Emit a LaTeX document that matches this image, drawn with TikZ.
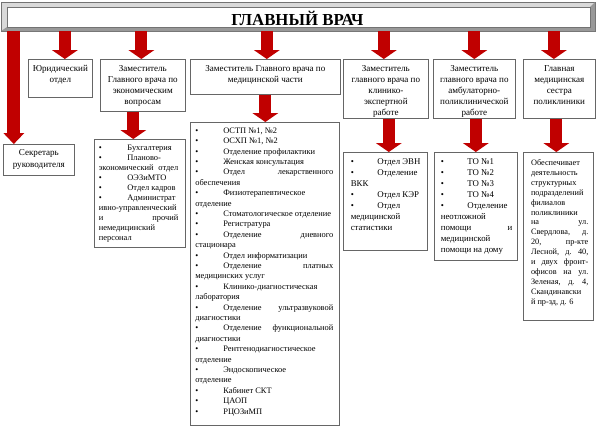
\documentclass[tikz,border=0pt]{standalone}
\usepackage{fontspec}
\setmainfont{Liberation Serif}
\usetikzlibrary{arrows.meta}
\definecolor{arrowred}{HTML}{C00000}
\newlength{\bultab}
\newcommand{\bul}{\makebox[\bultab][l]{\textbullet}}
\newcommand{\headtext}[4]{\begin{minipage}[t][#2][t]{#1}\centering\rule{0pt}{#3}#4\end{minipage}}
\newcommand{\listtext}[6]{\begin{minipage}[t][#2][t]{#1}\leftskip=#4\relax\rightskip=#5\relax\rule{0pt}{#3}#6\end{minipage}}
\tikzset{
  box/.style={draw=black!60, line width=0.5pt, inner sep=0pt, anchor=north west},
  headbox/.style={box, font=\fontsize{6.8}{8.3}\selectfont},
  redarrow/.style={draw=arrowred, line width=9pt, -{Triangle[width=19.5pt,length=6.75pt,line width=0pt]}},
  sidearrow/.style={draw=arrowred, line width=9.75pt, -{Triangle[width=15.75pt,length=8.25pt,line width=0pt]}}
}
\begin{document}
\begin{tikzpicture}[x=0.75pt,y=0.75pt,yscale=-1,xscale=1]
\useasboundingbox (0,0) rectangle (600,437);

%Shape: Bevel [banner]
\draw [draw=black!55, fill=black!15, line width=0.5pt] (1,2) rectangle (595,31) ;
\fill [black!40] (595,2) -- (590,7) -- (590,27) -- (7,27) -- (1,31) -- (595,31) -- cycle ;
\draw [draw=black!55, fill=white, line width=0.5pt] (7,7) rectangle (590,27) ;
% Text Node
\node [inner sep=0pt, minimum width=445.5pt, minimum height=18.75pt, font=\fontsize{12.6}{15}\selectfont\bfseries] (glav) at (297.5,18.5) {ГЛАВНЫЙ ВРАЧ};

% Text Node
\node [headbox] (jur) at (28,59) {\headtext{48pt}{28.5pt}{9.2pt}{Юридический\\отдел}};
% Text Node
\node [headbox] (econ) at (100,59) {\headtext{63.75pt}{39pt}{9.2pt}{Заместитель\\Главного врача по\\экономическим\\вопросам}};
% Text Node
\node [headbox] (med) at (190,59) {\headtext{112.5pt}{26.25pt}{9.2pt}{Заместитель Главного врача по\\медицинской части}};
% Text Node
\node [headbox] (klin) at (343,59) {\headtext{63.75pt}{44.25pt}{9.2pt}{Заместитель\\главного врача по\\клинико-\\экспертной\\работе}};
% Text Node
\node [headbox] (amb) at (433,59) {\headtext{61.5pt}{44.25pt}{9.2pt}{Заместитель\\главного врача по\\амбулаторно-\\поликлинической\\работе}};
% Text Node
\node [headbox] (ses) at (523,59) {\headtext{54pt}{44.25pt}{9.2pt}{Главная\\медицинская\\сестра\\поликлиники}};
% Text Node
\node [box, font=\fontsize{6.8}{8.8}\selectfont] (secr) at (3,144) {\headtext{53.25pt}{23.25pt}{8.6pt}{Секретарь\\руководителя}};

% Text Node
\node [box, font=\fontsize{6.3}{7.5}\selectfont] (econlist) at (94,139) {\listtext{68.25pt}{81pt}{8.25pt}{3.4pt}{5.25pt}{\setlength{\bultab}{21.4pt}%
\bul Бухгалтерия\\ \bul Планово-\\ экономический\hfill отдел\\ \bul ОЭЗиМТО\\ \bul Отдел кадров\\ \bul Администрат\\ ивно-управленческий\\ и\hfill прочий\\ немедицинский\\ персонал}};
% Text Node
\node [box, font=\fontsize{6.3}{7.8}\selectfont] (medlist) at (190,122) {\listtext{111.75pt}{227.25pt}{8.25pt}{3.75pt}{4.5pt}{\setlength{\bultab}{21pt}%
\bul ОСТП №1, №2\\ \bul ОСХП №1, №2\\ \bul Отделение профилактики\\ \bul Женская консультация\\ \bul Отдел\hfill лекарственного\\ обеспечения\\ \bul Физиотерапевтическое\\ отделение\\ \bul Стоматологическое отделение\\ \bul Регистратура\\ \bul Отделение\hfill дневного\\ стационара\\ \bul Отдел информатизации\\ \bul Отделение\hfill платных\\ медицинских услуг\\ \bul Клинико-диагностическая\\ лаборатория\\ \bul Отделение\hfill ультразвуковой\\ диагностики\\ \bul Отделение\hfill функциональной\\ диагностики\\ \bul Рентгенодиагностическое\\ отделение\\ \bul Эндоскопическое\\ отделение\\ \bul Кабинет СКТ\\ \bul ЦАОП\\ \bul РЦОЗиМП}};
% Text Node
\node [box, font=\fontsize{6.6}{8.25}\selectfont] (klinlist) at (343,152) {\listtext{63pt}{73.5pt}{9pt}{5.6pt}{3.75pt}{\setlength{\bultab}{19.9pt}%
\bul Отдел ЭВН\\ \bul Отделение\\ ВКК\\ \bul Отдел КЭР\\ \bul Отдел\\ медицинской\\ статистики}};
% Text Node
\node [box, font=\fontsize{6.6}{8.25}\selectfont] (amblist) at (434,152) {\listtext{62.25pt}{81pt}{9pt}{4.9pt}{3.75pt}{\setlength{\bultab}{19.9pt}%
\bul ТО №1\\ \bul ТО №2\\ \bul ТО №3\\ \bul ТО №4\\ \bul Отделение\\ неотложной\\ помощи\hfill и\\ медицинской\\ помощи на дому}};
% Text Node
\node [box, font=\fontsize{6.2}{7.45}\selectfont] (seslist) at (523,152) {\listtext{52.5pt}{126pt}{9.75pt}{5.8pt}{3.75pt}{%
Обеспечивает\\ деятельность\\ структурных\\ подразделений\\ филиалов\\ поликлиники\\ на\hfill ул.\\ Свердлова,\hfill д.\\ 20,\hfill пр-кте\\ Лесной,\hfill д.\hfill 40,\\ и\hfill двух\hfill фронт-\\ офисов\hfill на\hfill ул.\\ Зеленая,\hfill д.\hfill 4,\\ Скандинавски\\ й пр-зд, д. 6}};

%Shape: Arrows
\coordinate (secrtop) at ([xshift=-18.75pt]secr.north);
\coordinate (jurtop) at ([xshift=3.4pt]jur.north);
\coordinate (econtop) at ([xshift=-1.1pt]econ.north);
\coordinate (medtop) at ([xshift=1.1pt]med.north);
\coordinate (klintop) at ([xshift=-1.5pt]klin.north);
\coordinate (ambtop) at (amb.north);
\coordinate (sestop) at ([xshift=-4.1pt]ses.north);
\coordinate (econlisttop) at ([xshift=-4.9pt]econlist.north);
\coordinate (medlisttop) at (med.south |- medlist.north);
\coordinate (klinlisttop) at ([xshift=2.6pt]klinlist.north);
\coordinate (amblisttop) at (amblist.north);
\coordinate (seslisttop) at ([xshift=-1.5pt]seslist.north);

\draw [sidearrow] (secrtop |- glav.south) -- (secrtop) ;
\draw [redarrow] (jurtop |- glav.south) -- (jurtop) ;
\draw [redarrow] (econtop |- glav.south) -- (econtop) ;
\draw [redarrow] (medtop |- glav.south) -- (medtop) ;
\draw [redarrow] (klintop |- glav.south) -- (klintop) ;
\draw [redarrow] (ambtop |- glav.south) -- (ambtop) ;
\draw [redarrow] (sestop |- glav.south) -- (sestop) ;
\draw [redarrow] (econlisttop |- econ.south) -- (econlisttop) ;
\draw [redarrow] (med.south) -- (medlisttop) ;
\draw [redarrow] (klinlisttop |- klin.south) -- (klinlisttop) ;
\draw [redarrow] (amblisttop |- amb.south) -- (amblisttop) ;
\draw [redarrow] (seslisttop |- ses.south) -- (seslisttop) ;

\end{tikzpicture}
\end{document}
